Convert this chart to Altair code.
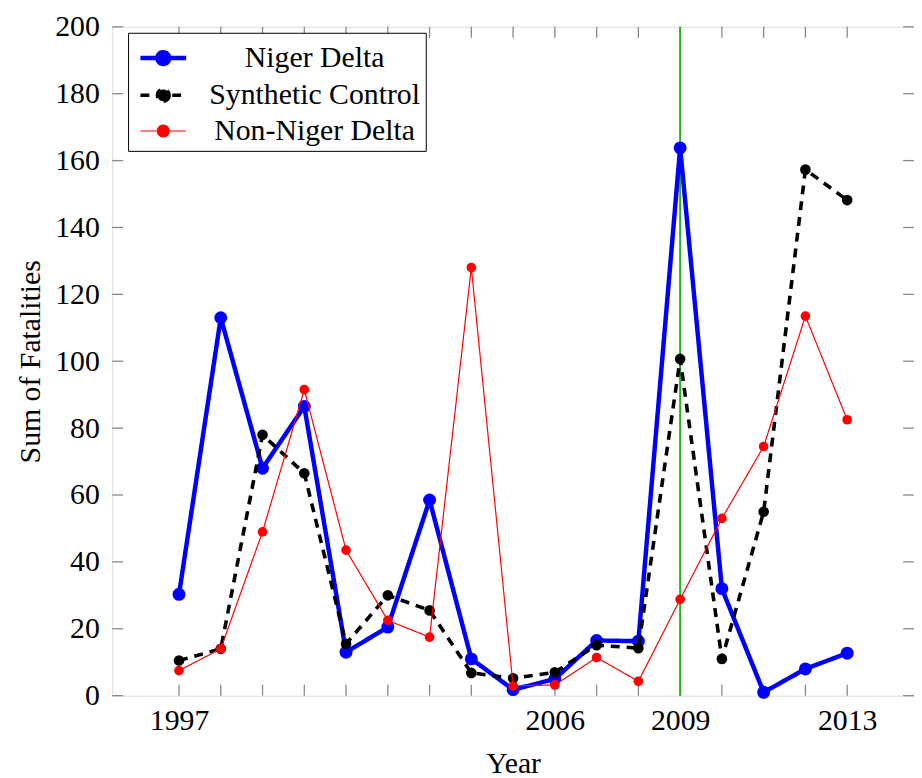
import altair as alt
import pandas as pd

# ---- data ----
years = list(range(1997, 2014))
niger_delta = [30.3, 113, 68, 86.5, 13, 20.5, 58.5, 11, 1.8, 5, 16.5, 16.3, 163.8, 32, 1, 8, 12.7]
synthetic_control = [10.5, 14, 78, 66.5, 15.5, 30, 25.5, 6.8, 5.2, 7, 15.1, 14.2, 100.7, 11, 55, 157.3, 148.2]
non_niger_delta = [7.5, 14, 49, 91.5, 43.5, 22.5, 17.5, 128, 2.9, 3.2, 11.4, 4.3, 28.8, 53, 74.5, 113.5, 82.5]
series_names = ["Niger Delta", "Synthetic Control", "Non-Niger Delta"]
series_colors = ["#0000ff", "#000000", "#ff0000"]
series_widths = [4.5, 3.6, 1.2]
series_dashes = [[1, 0], [9, 7], [1, 0]]
series_point_sizes = [170, 115, 95]
x_tick_labels = [1997, 2006, 2009, 2013]
y_ticks = list(range(0, 201, 20))
treatment_year = 2009

rows = []
for name, vals in zip(series_names, [niger_delta, synthetic_control, non_niger_delta]):
    for yr, v in zip(years, vals):
        rows.append({"year": yr, "value": v, "series": name})
df = pd.DataFrame(rows)

FONT = "Liberation Serif"
W, H = 808, 674
TICK = 11

xscale = alt.Scale(domain=[1995.4, 2014.6], nice=False, zero=False)
yscale = alt.Scale(domain=[0, 200], nice=False, zero=False)

xaxis = alt.Axis(values=x_tick_labels, format="d", ticks=False, domain=False, grid=False,
                 labelFont=FONT, labelFontSize=30, labelColor="black", labelPadding=10,
                 labelFlush=False, title="Year", titleFont=FONT, titleFontSize=30,
                 titleFontWeight="normal", titleColor="black", titlePadding=13)
yaxis = alt.Axis(values=y_ticks, ticks=False, domain=False, grid=False,
                 labelFont=FONT, labelFontSize=30, labelColor="black", labelPadding=13,
                 title="Sum of Fatalities", titleFont=FONT, titleFontSize=30,
                 titleFontWeight="normal", titleColor="black", titlePadding=9)

X = alt.X("year:Q", scale=xscale, axis=xaxis)
Y = alt.Y("value:Q", scale=yscale, axis=yaxis)

sym_path = ("M-1.28,0L1.28,0"
            "M0.33,0A0.33,0.33,0,1,1,-0.33,0A0.33,0.33,0,1,1,0.33,0Z")
legend = alt.Legend(title=None, orient="none", legendX=16, legendY=6,
                    symbolType=sym_path, symbolSize=1296, symbolOffset=10,
                    labelFont=FONT, labelFontSize=30, labelColor="black", labelLimit=500,
                    labelAlign="center", labelOffset=132,
                    strokeColor="black", fillColor="white", padding=5, rowPadding=2,
                    cornerRadius=0)

color = alt.Color("series:N", scale=alt.Scale(type="ordinal", domain=series_names,
                                              range=series_colors), legend=legend)
dash = alt.StrokeDash("series:N", scale=alt.Scale(type="ordinal", domain=series_names,
                                                  range=series_dashes), legend=legend)
swidth = alt.StrokeWidth("series:N", scale=alt.Scale(type="ordinal", domain=series_names,
                                                     range=series_widths), legend=legend)

ticks_x = pd.DataFrame({"year": years})
ticks_y = pd.DataFrame({"value": y_ticks})
tick_style = dict(color="#888888", strokeWidth=1.3)

layers = [
    alt.Chart(ticks_x).mark_rule(**tick_style).encode(x=X, y=alt.value(H), y2=alt.value(H - TICK)),
    alt.Chart(ticks_x).mark_rule(**tick_style).encode(x=X, y=alt.value(0), y2=alt.value(TICK)),
    alt.Chart(ticks_y).mark_rule(**tick_style).encode(y=Y, x=alt.value(0), x2=alt.value(TICK)),
    alt.Chart(ticks_y).mark_rule(**tick_style).encode(y=Y, x=alt.value(W), x2=alt.value(W - TICK)),
    alt.Chart(pd.DataFrame({"year": [treatment_year]})).mark_rule(
        color="#22b422", strokeWidth=2).encode(x=X),
]

for name, psz in zip(series_names, series_point_sizes):
    base = alt.Chart(df).transform_filter(alt.datum.series == name)
    layers.append(base.mark_line(strokeCap="butt", strokeJoin="round").encode(
        x=X, y=Y, color=color, strokeDash=dash, strokeWidth=swidth))
    layers.append(base.mark_circle(opacity=1, size=psz).encode(x=X, y=Y, color=color))

chart = alt.layer(*layers).properties(
    width=W, height=H,
    autosize=alt.AutoSizeParams(type="none"),
    padding={"left": 105, "top": 16, "right": 0, "bottom": 80},
).configure_view(stroke="#333333", strokeWidth=1.3).configure(
    background="white"
).configure_legend(
    labelFont=FONT, labelFontSize=30, labelColor="black", labelLimit=500,
    symbolType=sym_path, symbolSize=1296
)

chart.save("out.html", embed_options={"renderer": "svg", "actions": False})
